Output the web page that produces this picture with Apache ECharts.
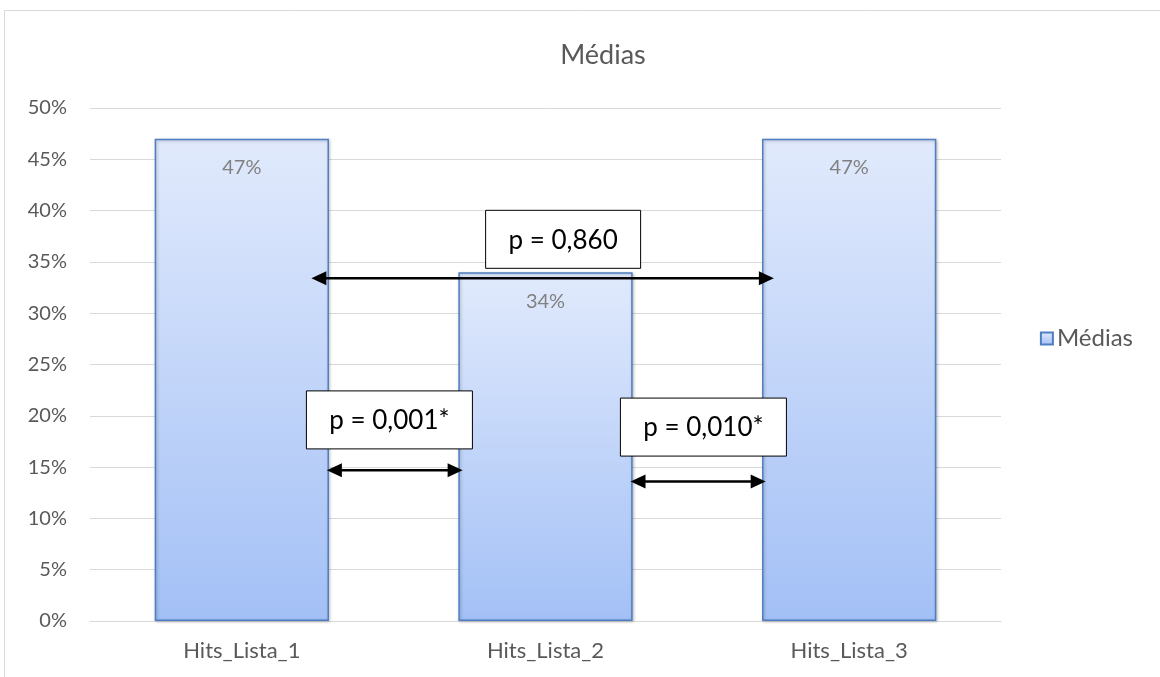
<!DOCTYPE html>
<html>
<head>
<meta charset="utf-8">
<script src="https://cdn.jsdelivr.net/npm/echarts@6/dist/echarts.min.js"></script>
<style>
  html, body { margin: 0; padding: 0; background: #ffffff; }
  #chart { width: 1160px; height: 677px; }
</style>
</head>
<body>
<div id="chart"></div>
<script>
// Categories and mean hit rates (%)
const categories = ['Hits_Lista_1', 'Hits_Lista_2', 'Hits_Lista_3'];
const medias = [47, 34, 47];
const yTicks = [0, 5, 10, 15, 20, 25, 30, 35, 40, 45, 50];

// Comparison arrows: [fromX, toX, y%] in category units (0 = first category centre)
const arrows = [
  [0.28, 0.727, 14.7],
  [1.28, 1.725, 13.6],
  [0.229, 1.752, 33.4]
];
// p-value boxes: [centreX, centreY%, text]
const pBoxes = [
  [0.486, 19.6, 'p = 0,001*'],
  [1.52, 18.9, 'p = 0,010*'],
  [1.058, 37.2, 'p = 0,860']
];

const FONT = 'Lato, "Open Sans", sans-serif';
const GREY = '#595959';

const barFill = new echarts.graphic.LinearGradient(0, 0, 0, 1, [
  { offset: 0, color: '#e1eafc' },
  { offset: 1, color: '#a3c0f6' }
]);

const chart = echarts.init(document.getElementById('chart'));

chart.setOption({
  backgroundColor: '#ffffff',
  animation: false,
  textStyle: { fontFamily: FONT },
  title: {
    text: 'Médias',
    left: 598,
    top: 37,
    textAlign: 'center',
    textStyle: { fontFamily: FONT, fontSize: 27, fontWeight: 'normal', color: GREY }
  },
  legend: {
    right: 22,
    top: 'middle',
    orient: 'vertical',
    itemWidth: 12,
    itemHeight: 12,
    itemGap: 6,
    data: [{ name: 'Médias', icon: 'rect' }],
    textStyle: { fontFamily: FONT, fontSize: 24, color: GREY, padding: [0, 0, 0, -1] }
  },
  grid: { left: 90, right: 159, top: 108, bottom: 56 },
  xAxis: [
    {
      type: 'category',
      data: categories,
      axisTick: { show: false },
      axisLine: { show: true, lineStyle: { color: '#d9d9d9', width: 1 } },
      axisLabel: { color: GREY, fontSize: 22, fontFamily: FONT, margin: 19 }
    },
    {
      type: 'value',
      min: -0.5,
      max: 2.5,
      show: false
    }
  ],
  yAxis: {
    type: 'value',
    min: yTicks[0],
    max: yTicks[yTicks.length - 1],
    interval: 5,
    axisLine: { show: false },
    axisTick: { show: false },
    splitLine: { lineStyle: { color: '#d9d9d9', width: 1 } },
    axisLabel: { color: GREY, fontSize: 20, fontFamily: FONT, margin: 23, formatter: '{value}%' }
  },
  series: [
    {
      name: 'Médias',
      type: 'bar',
      data: medias,
      barWidth: '57.4%',
      itemStyle: {
        color: barFill,
        borderColor: '#4f7ec2',
        borderWidth: 1.5,
        shadowColor: 'rgba(0,0,0,0.25)',
        shadowBlur: 3,
        shadowOffsetX: 1,
        shadowOffsetY: 1
      },
      label: {
        show: true,
        position: 'insideTop',
        distance: 19,
        formatter: '{c}%',
        color: '#808080',
        fontSize: 20,
        fontFamily: FONT
      }
    },
    {
      type: 'custom',
      xAxisIndex: 1,
      z: 5,
      silent: true,
      data: arrows,
      renderItem: function (params, api) {
        const a = api.coord([api.value(0), api.value(2)]);
        const b = api.coord([api.value(1), api.value(2)]);
        const len = 15, hw = 7;
        return {
          type: 'group',
          children: [
            {
              type: 'line',
              shape: { x1: a[0] + len - 2, y1: a[1], x2: b[0] - len + 2, y2: b[1] },
              style: { stroke: '#000', lineWidth: 2.5 }
            },
            {
              type: 'polygon',
              shape: { points: [[a[0], a[1]], [a[0] + len, a[1] - hw], [a[0] + len, a[1] + hw]] },
              style: { fill: '#000' }
            },
            {
              type: 'polygon',
              shape: { points: [[b[0], b[1]], [b[0] - len, b[1] - hw], [b[0] - len, b[1] + hw]] },
              style: { fill: '#000' }
            }
          ]
        };
      }
    },
    {
      type: 'custom',
      xAxisIndex: 1,
      z: 6,
      silent: true,
      data: pBoxes,
      renderItem: function (params, api) {
        const c = api.coord([api.value(0), api.value(1)]);
        const txt = pBoxes[params.dataIndex][2];
        const w = txt.indexOf('*') >= 0 ? 166 : 155, h = 58;
        return {
          type: 'group',
          children: [
            {
              type: 'rect',
              shape: { x: c[0] - w / 2, y: c[1] - h / 2, width: w, height: h },
              style: { fill: '#ffffff', stroke: '#000000', lineWidth: 1 }
            },
            {
              type: 'text',
              style: {
                x: c[0], y: c[1] + 1,
                text: txt,
                align: 'center',
                verticalAlign: 'middle',
                fill: '#000',
                font: '26px ' + FONT
              }
            }
          ]
        };
      }
    }
  ],
  graphic: [
    {
      type: 'polyline',
      silent: true,
      shape: { points: [[4.5, 677], [4.5, 10.5], [1160, 10.5]] },
      style: { stroke: '#d9d9d9', lineWidth: 1, fill: null }
    }
  ]
});
</script>
</body>
</html>
